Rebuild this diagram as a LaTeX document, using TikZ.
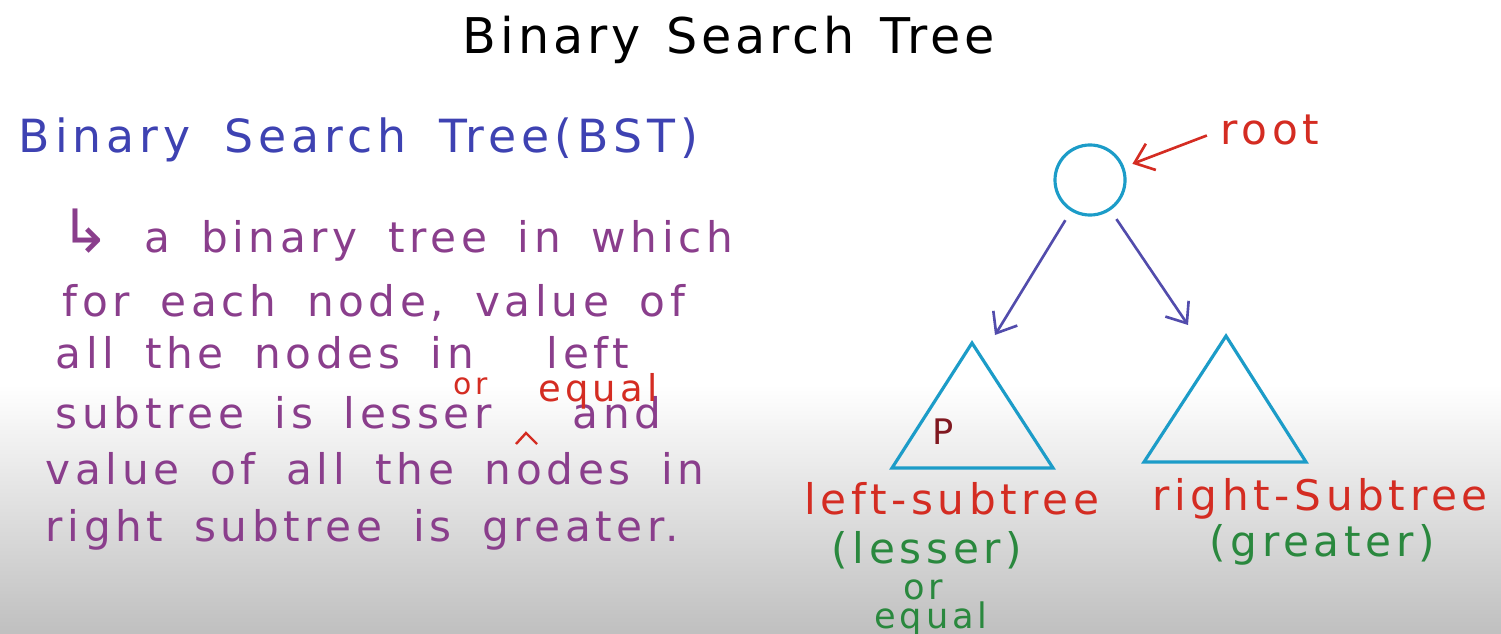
\documentclass[tikz,border=0pt]{standalone}
\usepackage{fontspec}
\setmainfont{DejaVu Sans}
\newfontfamily\hand[LetterSpace=11,WordSpace=1.7]{DejaVu Sans}
\newfontfamily\handtitle[LetterSpace=8,WordSpace=1.3]{DejaVu Sans}
\usetikzlibrary{arrows.meta,positioning,calc}

\definecolor{bstblue}{RGB}{62,66,178}
\definecolor{notepurple}{RGB}{138,62,140}
\definecolor{notered}{RGB}{212,44,34}
\definecolor{notegreen}{RGB}{42,136,62}
\definecolor{treecyan}{RGB}{28,156,200}
\definecolor{edgeblue}{RGB}{82,76,172}
\definecolor{pred}{RGB}{128,24,32}

\begin{document}
\begin{tikzpicture}[
    x=0.01cm, y=-0.01cm,
    note/.style={anchor=base west, text=notepurple, font=\hand\fontsize{12}{14}\selectfont, inner sep=0pt},
    redlbl/.style={text=notered, font=\hand\fontsize{12}{14}\selectfont, inner sep=0pt},
    greenlbl/.style={text=notegreen, font=\hand\fontsize{12}{14}\selectfont, inner sep=0pt},
    subtree/.style={draw=treecyan, line width=0.9pt},
    edge/.style={-{Straight Barb[length=5pt,width=8pt]}, draw=edgeblue, line width=0.75pt}
]
% page and the grey shade at the bottom
\fill[white] (0,0) rectangle (1501,634);
\shade[top color=white, bottom color=gray!50] (0,385) rectangle (1501,634);
\useasboundingbox (0,0) rectangle (1501,634);

\node[anchor=base west, inner sep=0pt, font=\handtitle\fontsize{14}{16}\selectfont] (title) at (462,54) {Binary Search Tree};
\node[anchor=base west, inner sep=0pt, text=bstblue, font=\hand\fontsize{13}{15}\selectfont] (bst) at (18,153) {Binary Search Tree(BST)};

% definition
\node[note] (def1) at (60,253) {{\fontsize{17}{17}\selectfont ↳}\hspace{0.8em}a binary tree in which};
\node[note] (def2) at (62,317) {for each node, value of};
\node[note] (def3) at (55,368) {all the nodes in\hspace{1em} left};
\node[note] (def4) at (55,428) {subtree is lesser};
\node[note] (defand) at (572,428) {and};
\node[note] (def5) at (45,484) {value of all the nodes in};
\node[note] (def6) at (45,541) {right subtree is greater.};
\node[redlbl, anchor=base west, font=\hand\fontsize{8.5}{10}\selectfont] (insor) at (453,394) {or};
\node[redlbl, anchor=base west, font=\hand\fontsize{10.5}{12}\selectfont] (inseq) at (538,401) {equal};
\draw[notered, line width=0.7pt] (516,444) -- (526,433) -- (537,444);

% tree
\node[circle, draw=treecyan, line width=0.9pt, minimum size=0.7cm] (root) at (1090,180) {};
\node[redlbl, anchor=base west] (rootlbl) at (1220,145) {root};
\draw[-{Straight Barb[length=5pt,width=8pt]}, draw=notered, line width=0.75pt, shorten <=4pt, shorten >=2.5pt] (rootlbl.west) -- (root);

\coordinate (ltop) at (972,343);
\coordinate (rtop) at (1226,336);
\draw[subtree] (ltop) -- (1053,468) -- (892,468) -- cycle;
\draw[subtree] (rtop) -- (1306,462) -- (1144,462) -- cycle;
\node[text=pred, font=\hand\fontsize{10}{12}\selectfont] (pval) at (943,432) {P};

\coordinate (lhit) at (995,335);
\coordinate (rhit) at (1188,325);
\draw[edge, shorten <=3pt] (root) -- (lhit);
\draw[edge, shorten <=3pt] (root) -- (rhit);

% subtree labels
\node[redlbl, anchor=base] (lsub) at (952,514) {left-subtree};
\node[greenlbl, anchor=base] (lless) at (927,563) {(lesser)};
\node[greenlbl, anchor=base, font=\hand\fontsize{10}{12}\selectfont] (lor) at (923,599) {or};
\node[greenlbl, anchor=base, font=\hand\fontsize{10}{12}\selectfont] (leq) at (931,628) {equal};
\node[redlbl, anchor=base] (rsub) at (1320,510) {right-Subtree};
\node[greenlbl, anchor=base] (rgreat) at (1322,556) {(greater)};
\end{tikzpicture}
\end{document}
